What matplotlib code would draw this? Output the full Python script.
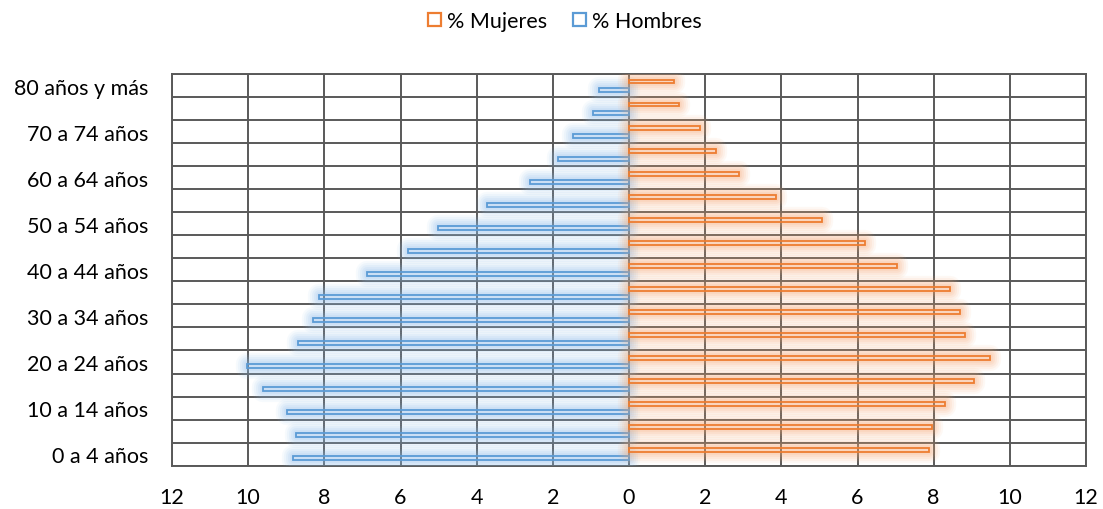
import matplotlib
matplotlib.use("Agg")
import matplotlib.pyplot as plt
import matplotlib.patheffects as pe
from matplotlib.patches import Patch
import numpy as np

age_groups = ["0 a 4 años", "5 a 9 años", "10 a 14 años", "15 a 19 años",
              "20 a 24 años", "25 a 29 años", "30 a 34 años", "35 a 39 años",
              "40 a 44 años", "45 a 49 años", "50 a 54 años", "55 a 59 años",
              "60 a 64 años", "65 a 69 años", "70 a 74 años", "75 a 79 años",
              "80 años y más"]
mujeres = [7.89, 7.95, 8.31, 9.06, 9.47, 8.81, 8.70, 8.42, 7.05, 6.19,
           5.08, 3.85, 2.89, 2.28, 1.86, 1.31, 1.19]
hombres = [8.81, 8.75, 8.97, 9.61, 10.02, 8.68, 8.31, 8.13, 6.87, 5.80,
           5.02, 3.72, 2.59, 1.86, 1.46, 0.94, 0.80]
x_ticks = [-12, -10, -8, -6, -4, -2, 0, 2, 4, 6, 8, 10, 12]

ORANGE = "#ED7D31"
BLUE = "#5B9BD5"
GRID = "#595959"

plt.rcParams["font.family"] = ["Lato", "DejaVu Sans"]

fig = plt.figure(figsize=(11.03, 5.10), dpi=100)
ax = fig.add_axes([172 / 1103, 1 - 466.7 / 510, (1086 - 172) / 1103, (466.7 - 75) / 510])


def glow(color):
    effects = []
    for lw, a in [(16, 0.07), (13, 0.09), (10, 0.11), (7, 0.13), (4, 0.15)]:
        effects.append(pe.Stroke(linewidth=lw, foreground=color, alpha=a,
                                 joinstyle="round"))
    effects.append(pe.Normal())
    return effects


y = np.arange(len(age_groups))
off = 0.176
h = 0.17

bh = ax.barh(y - off, -np.array(hombres), height=h, facecolor="none",
             edgecolor=BLUE, linewidth=1.3, zorder=3)
for b in bh:
    b.set_path_effects(glow("#8DBDEB"))
bm = ax.barh(y + off, mujeres, height=h, facecolor="none",
             edgecolor=ORANGE, linewidth=1.3, zorder=3)
for b in bm:
    b.set_path_effects(glow("#F5A76F"))

ax.set_xlim(-12, 12)
ax.set_ylim(-0.5, len(age_groups) - 0.5)
ax.set_xticks(x_ticks)
ax.set_xticklabels([str(abs(t)) for t in x_ticks])
ax.set_yticks(y[::2])
ax.set_yticklabels(age_groups[::2])
ax.set_yticks(np.arange(-0.5, len(age_groups), 1.0), minor=True)

ax.set_axisbelow(True)
ax.grid(True, axis="x", which="major", color=GRID, linewidth=1.4)
ax.grid(True, axis="y", which="minor", color=GRID, linewidth=1.4)
ax.grid(False, axis="y", which="major")
ax.tick_params(axis="both", which="both", length=0, labelsize=15.5, colors="#000000")
ax.tick_params(axis="y", pad=17)
ax.tick_params(axis="x", pad=15)
for s in ax.spines.values():
    s.set_color(GRID)
    s.set_linewidth(1.4)

handles = [Patch(facecolor="white", edgecolor=ORANGE, linewidth=1.6, label="% Mujeres"),
           Patch(facecolor="white", edgecolor=BLUE, linewidth=1.6, label="% Hombres")]
fig.legend(handles=handles, loc="center", bbox_to_anchor=(565 / 1103, 1 - 22 / 510),
           ncol=2, frameon=False, fontsize=15.5, handlelength=0.6, handleheight=0.6,
           handletextpad=0.3, columnspacing=1.2)

fig.savefig("out.png", dpi=100, facecolor="white")
